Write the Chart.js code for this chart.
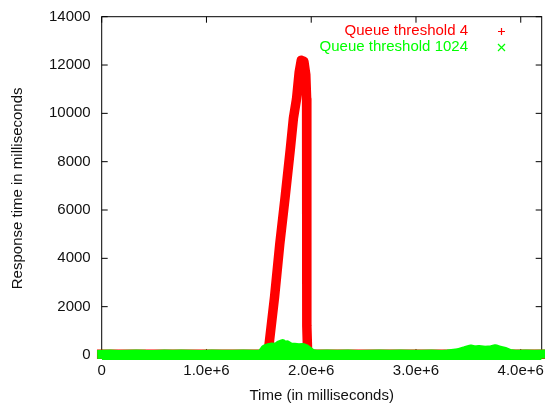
<!DOCTYPE html>
<html>
<head>
<meta charset="utf-8">
<script src="https://cdn.jsdelivr.net/npm/chart.js@4.4.1/dist/chart.umd.min.js"></script>
<style>
  body { margin: 0; background: #fff; }
  #caja { width: 545px; height: 405px; }
</style>
</head>
<body>
<div id="caja"><canvas id="grafica" width="545" height="405"></canvas></div>
<script>
// Series
const nombresSeries = ['Queue threshold 4', 'Queue threshold 1024'];

const tiempoRojo = [0, 400000, 800000, 1200000, 1500000, 1575000, 1590000, 1650000, 1700000, 1750000, 1800000,
  1830000, 1860000, 1885000, 1905000, 1930000, 1948000, 1956000, 1958000, 1966000, 2000000,
  2600000, 3200000, 3800000, 4200000];
const respuestaRojo = [30, 30, 30, 30, 30, 30, 150, 2400, 4600, 6500, 8500,
  9800, 10600, 11700, 12200, 12150, 11600, 10600, 1200, 40, 30,
  30, 30, 30, 30];

const tiempoVerde = [0, 80000, 160000, 250000, 330000, 420000, 500000, 600000, 680000, 760000, 850000,
  950000, 1050000, 1150000, 1250000, 1350000, 1450000, 1520000, 1545000, 1560000, 1590000, 1620000,
  1650000, 1680000, 1700000, 1725000, 1745000, 1770000, 1800000, 1840000, 1880000, 1920000, 1950000,
  1980000, 2010000, 2050000, 2150000, 2250000, 2350000, 2450000, 2550000, 2650000, 2750000, 2850000,
  2950000, 3050000, 3150000, 3250000, 3300000, 3400000, 3470000, 3520000, 3560000, 3600000, 3660000,
  3720000, 3760000, 3800000, 3850000, 3900000, 3950000, 4050000, 4130000, 4200000];
const respuestaVerde = [30, 40, 25, 35, 45, 30, 25, 40, 30, 45, 35,
  25, 40, 30, 35, 45, 30, 40, 170, 260, 300, 330,
  310, 360, 430, 470, 360, 420, 330, 320, 300, 310, 260,
  160, 60, 35, 40, 30, 45, 25, 35, 40, 30, 45,
  35, 30, 40, 25, 40, 90, 180, 250, 210, 230, 200,
  220, 260, 200, 150, 60, 35, 40, 30, 35];

const marcasX = [0, 1000000, 2000000, 3000000, 4000000];
const etiquetasX = ['0', '1.0e+6', '2.0e+6', '3.0e+6', '4.0e+6'];
const marcasY = [0, 2000, 4000, 6000, 8000, 10000, 12000, 14000];
const etiquetasY = ['0', '2000', '4000', '6000', '8000', '10000', '12000', '14000'];

const coloresSeries = ['#ff0000', '#00ff00'];
const fuente = '"Liberation Sans", Arial, Helvetica, sans-serif';

Chart.defaults.font.family = fuente;
Chart.defaults.font.size = 15;
Chart.defaults.color = '#111';

// Marco con marcas hacia dentro, como en gnuplot
const marco = {
  id: 'marco',
  beforeDatasetsDraw(chart) {
    const { ctx, chartArea: ca, scales } = chart;
    const y0 = scales.y.getPixelForValue(0);
    ctx.save();
    ctx.strokeStyle = '#000';
    ctx.lineWidth = 1;
    ctx.strokeRect(ca.left, ca.top, ca.right - ca.left, y0 - ca.top);
    ctx.beginPath();
    marcasY.forEach(v => {
      const py = scales.y.getPixelForValue(v);
      ctx.moveTo(ca.left, py); ctx.lineTo(ca.left + 6, py);
      ctx.moveTo(ca.right, py); ctx.lineTo(ca.right - 6, py);
    });
    marcasX.forEach(v => {
      const px = scales.x.getPixelForValue(v);
      ctx.moveTo(px, y0); ctx.lineTo(px, y0 - 6);
      ctx.moveTo(px, ca.top); ctx.lineTo(px, ca.top + 6);
    });
    ctx.stroke();
    ctx.restore();
  }
};

// Leyenda: texto alineado a la derecha y el símbolo detrás
const leyenda = {
  id: 'leyenda',
  afterDraw(chart) {
    const { ctx } = chart;
    const filas = [31, 47];
    ctx.save();
    ctx.font = '15px ' + fuente;
    ctx.textAlign = 'right';
    ctx.textBaseline = 'middle';
    chart.data.datasets.forEach((ds, i) => {
      const y = filas[i];
      ctx.fillStyle = ds.borderColor;
      ctx.fillText(ds.label, 468, y);
      ctx.strokeStyle = ds.borderColor;
      ctx.lineWidth = 1.2;
      ctx.beginPath();
      if (i === 0) {
        ctx.moveTo(498, y + 0.5); ctx.lineTo(505, y + 0.5);
        ctx.moveTo(501.5, y - 3); ctx.lineTo(501.5, y + 4);
      } else {
        ctx.moveTo(498, y - 3); ctx.lineTo(505, y + 4);
        ctx.moveTo(505, y - 3); ctx.lineTo(498, y + 4);
      }
      ctx.stroke();
    });
    ctx.restore();
  }
};

const aPuntos = (xs, ys) => xs.map((x, i) => ({ x: x, y: ys[i] }));

new Chart(document.getElementById('grafica'), {
  type: 'scatter',
  data: {
    datasets: [{
      label: nombresSeries[0],
      data: aPuntos(tiempoRojo, respuestaRojo),
      showLine: true,
      borderColor: coloresSeries[0],
      backgroundColor: coloresSeries[0],
      borderWidth: 9.5,
      borderJoinStyle: 'round',
      borderCapStyle: 'square',
      pointRadius: 0,
      clip: 6,
      order: 1
    }, {
      label: nombresSeries[1],
      data: aPuntos(tiempoVerde, respuestaVerde),
      showLine: true,
      borderColor: coloresSeries[1],
      backgroundColor: coloresSeries[1],
      borderWidth: 9,
      borderJoinStyle: 'round',
      borderCapStyle: 'square',
      fill: 'start',
      pointRadius: 0,
      clip: 6,
      order: 0
    }]
  },
  options: {
    responsive: false,
    animation: false,
    events: [],
    layout: { padding: { top: 16.7, right: 3.3, left: 0, bottom: 0 } },
    plugins: { legend: { display: false }, tooltip: { enabled: false } },
    scales: {
      x: {
        type: 'linear',
        min: 0,
        max: 4200000,
        grid: { display: false, drawTicks: false },
        border: { display: false },
        afterBuildTicks: s => { s.ticks = marcasX.map(v => ({ value: v })); },
        afterFit: s => { s.height = 45; s.paddingLeft = 0; s.paddingRight = 0; },
        ticks: {
          autoSkip: false,
          maxRotation: 0,
          padding: 2,
          callback: (v, i) => etiquetasX[i]
        },
        title: { display: true, text: 'Time (in milliseconds)', padding: { top: 0, bottom: 0 } }
      },
      y: {
        type: 'linear',
        min: -207,
        max: 14000,
        grid: { display: false, drawTicks: false },
        border: { display: false },
        afterBuildTicks: s => { s.ticks = marcasY.map(v => ({ value: v })); },
        afterFit: s => { s.width = 101.7; s.paddingTop = 0; s.paddingBottom = 0; },
        ticks: {
          autoSkip: false,
          padding: 11,
          callback: (v, i) => etiquetasY[i]
        },
        title: { display: true, text: 'Response time in milliseconds', padding: { top: 9, bottom: 0 } }
      }
    }
  },
  plugins: [marco, leyenda]
});
</script>
</body>
</html>
